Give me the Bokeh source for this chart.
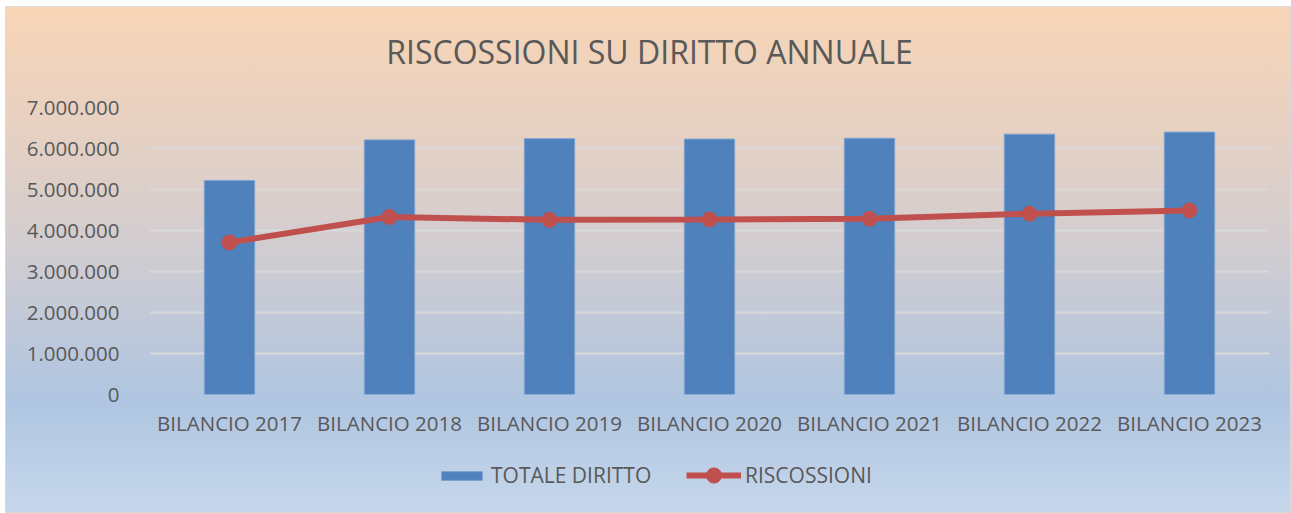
from bokeh.plotting import figure
from bokeh.layouts import column
from bokeh.models import (FactorRange, Range1d, Legend, LegendItem, CustomJSTickFormatter,
                          SingleIntervalTicker, Label)
from bokeh.embed import file_html
from bokeh.resources import INLINE

categories = ["BILANCIO 2017", "BILANCIO 2018", "BILANCIO 2019", "BILANCIO 2020",
              "BILANCIO 2021", "BILANCIO 2022", "BILANCIO 2023"]
totale_diritto = [5220000, 6210000, 6240000, 6230000, 6250000, 6350000, 6400000]
riscossioni = [3710000, 4330000, 4260000, 4270000, 4285000, 4410000, 4490000]
title_text = "RISCOSSIONI SU DIRITTO ANNUALE"

FONT = "Open Sans"
TXT = "#595959"
BLUE = "#4F81BD"
RED = "#C0504D"
W = 1284


def bare(fig):
    fig.background_fill_alpha = 0
    fig.border_fill_alpha = 0
    fig.outline_line_color = None
    return fig


def draw(fig):
    b = fig.vbar(x=categories, top=totale_diritto, width=0.315, fill_color=BLUE,
                 line_color="#7FA3D0", line_width=1)
    l = fig.line(x=categories, y=riscossioni, line_color=RED, line_width=6)
    s = fig.scatter(x=categories, y=riscossioni, size=15, fill_color=RED, line_color=RED)
    return b, l, s


x_range = FactorRange(*categories, range_padding=0)
y_range = Range1d(0, 7000000)

# title strip
tf = bare(figure(x_range=x_range, y_range=y_range, width=W, height=70,
                 output_backend="svg", toolbar_location=None,
                 x_axis_type=None, y_axis_type=None,
                 min_border=0, min_border_top=0, min_border_bottom=0))
tf.grid.visible = False
tf.add_layout(Label(x=500, y=26, x_units="screen", y_units="screen", text=title_text,
                    text_font=FONT, text_font_size="32px", text_color=TXT,
                    text_align="center", text_baseline="middle"))

# main chart
p = bare(figure(x_range=x_range, y_range=y_range,
                width=W, height=370, output_backend="svg", toolbar_location=None,
                min_border_left=143, min_border_right=21, min_border_top=30,
                min_border_bottom=53))
draw(p)

p.yaxis.ticker = SingleIntervalTicker(interval=1000000)
p.yaxis.formatter = CustomJSTickFormatter(code="""
return Math.round(tick).toString().replace(/\\B(?=(\\d{3})+(?!\\d))/g, '.');
""")
for ax in (p.xaxis, p.yaxis):
    ax.axis_line_color = None
    ax.major_tick_line_color = None
    ax.minor_tick_line_color = None
    ax.major_label_text_font = FONT
    ax.major_label_text_font_size = "20.5px"
    ax.major_label_text_color = TXT
p.yaxis.major_label_standoff = 24
p.xaxis.major_label_standoff = 8
p.xgrid.grid_line_color = None
p.ygrid.grid_line_color = "#D9D9D9"
p.ygrid.grid_line_width = 2

# legend strip (same data, hidden renderers, only the legends are shown)
q = bare(figure(x_range=x_range, y_range=y_range, width=W, height=65,
                output_backend="svg", toolbar_location=None,
                x_axis_type=None, y_axis_type=None,
                min_border=0, min_border_top=0, min_border_bottom=0))
q.grid.visible = False
qb, ql, qs = draw(q)
for r in (qb, ql, qs):
    r.visible = False

common = dict(orientation="horizontal", label_text_font=FONT, label_text_font_size="21px",
              label_text_color=TXT, background_fill_alpha=0, border_line_color=None,
              padding=0, margin=0, inactive_fill_alpha=0)
leg1 = Legend(items=[LegendItem(label="TOTALE DIRITTO", renderers=[qb])],
              location=(287, 23), glyph_width=51, glyph_height=11, label_standoff=4, **common)
leg2 = Legend(items=[LegendItem(label="RISCOSSIONI", renderers=[ql, qs])],
              location=(537, 18), glyph_width=55, glyph_height=38, label_standoff=4, **common)
q.add_layout(leg1, "center")
q.add_layout(leg2, "center")

lay = column(tf, p, q, spacing=0)
lay.styles = {"background": "linear-gradient(to bottom, #F8D5B6 0%, #E6D1C3 25%, #CFCCD2 50%, #AFC5E1 78%, #C6D7EB 100%)",
              "margin-left": "6px", "margin-top": "7px",
              "box-shadow": "0 0 0 1px #D9D9D9"}

open("out.html", "w").write(file_html(lay, INLINE))
